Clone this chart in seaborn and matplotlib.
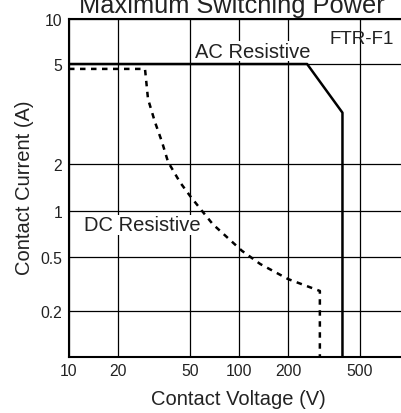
import numpy as np
import pandas as pd
import matplotlib
matplotlib.use("Agg")
import matplotlib.pyplot as plt
import seaborn as sns

# ---- data ----
ac_voltage = [10, 255, 400, 400]
ac_current = [5.0, 5.0, 3.2, 0.1]
dc_voltage = [10, 28.2, 29.3, 32, 35, 37.8, 44, 50, 60, 69, 80, 104, 135, 200, 300, 300]
dc_current = [4.78, 4.78, 3.63, 2.94, 2.45, 2.04, 1.53, 1.25, 0.985, 0.82, 0.71, 0.55,
              0.444, 0.344, 0.281, 0.1]
x_ticks = [10, 20, 50, 100, 200, 500]
x_ticklabels = ["10", "20", "50", "100", "200", "500"]
y_ticks = [0.2, 0.5, 1, 2, 5, 10]
y_ticklabels = ["0.2", "0.5", "1", "2", "5", "10"]

sns.set_theme(style="white")
plt.rcParams["font.family"] = ["Liberation Sans", "DejaVu Sans"]
TXT = "#222222"

# piecewise log scales matching the hand-drawn chart's grid
xk_log = np.log10([10, 20, 50, 100, 200, 500, 1000])
xk_px = np.array([69, 118, 190, 239, 288, 360, 409], float)
yk_log = np.log10([0.1, 0.2, 0.5, 1, 2, 5, 10])
yk_px = -np.array([358, 312, 258, 212, 165, 65, 20], float)


def xf(v):
    v = np.asarray(v, float)
    return np.interp(np.log10(np.clip(v, 1e-9, None)), xk_log, xk_px, left=-1e3, right=1e4)


def xi(p):
    return 10 ** np.interp(np.asarray(p, float), xk_px, xk_log)


def yf(v):
    v = np.asarray(v, float)
    return np.interp(np.log10(np.clip(v, 1e-9, None)), yk_log, yk_px, left=-1e4, right=1e3)


def yi(p):
    return 10 ** np.interp(np.asarray(p, float), yk_px, yk_log)


W, H = 401, 414
fig = plt.figure(figsize=(W / 100, H / 100), dpi=100)
ax = fig.add_axes([69 / W, (H - 358) / H, (409 - 69) / W, (358 - 20) / H])
ax.set_xscale("function", functions=(xf, xi))
ax.set_yscale("function", functions=(yf, yi))

ac = pd.DataFrame({"V": ac_voltage, "I": ac_current})
dc = pd.DataFrame({"V": dc_voltage, "I": dc_current})
sns.lineplot(data=ac, x="V", y="I", sort=False, estimator=None, color="black",
             lw=1.8, ax=ax, zorder=3)
sns.lineplot(data=dc, x="V", y="I", sort=False, estimator=None, color="black",
             lw=1.8, ax=ax, zorder=3, dashes=False, linestyle=(0, (2.2, 2.2)))

ax.set_xlim(10, 1000)
ax.set_ylim(0.1, 10)
ax.set_xticks(x_ticks, x_ticklabels)
ax.set_yticks(y_ticks, y_ticklabels)
ax.minorticks_off()
ax.grid(True, color="black", lw=0.9)
ax.set_axisbelow(True)
ax.tick_params(length=0, labelsize=11.3, colors=TXT)
ax.tick_params(axis="x", pad=4)
ax.tick_params(axis="y", pad=5)
for s in ["left", "bottom", "top"]:
    ax.spines[s].set_color("black")
    ax.spines[s].set_linewidth(1.5)
ax.spines["right"].set_visible(False)
ax.set_xlabel("")
ax.set_ylabel("")

fig.text(238 / W, 1 - 400 / H, "Contact Voltage (V)", ha="center", va="center",
         fontsize=14.5, color=TXT)
fig.text(25 / W, 1 - 188 / H, "Contact Current (A)", ha="center", va="center",
         rotation=90, fontsize=14.5, color=TXT)
fig.text(232 / W, 1 - 13 / H, "Maximum Switching Power", ha="center", va="baseline",
         fontsize=18.3, color=TXT)

box = dict(facecolor="white", edgecolor="none", pad=0.5)
fig.text(253 / W, 1 - 52 / H, "AC Resistive", ha="center", va="center",
         fontsize=14.5, color=TXT, bbox=box, zorder=5)
fig.text(142 / W, 1 - 226 / H, "DC Resistive", ha="center", va="center",
         fontsize=14.5, color=TXT, bbox=box, zorder=5)
fig.text(362 / W, 1 - 40 / H, "FTR-F1", ha="center", va="center",
         fontsize=13.5, color=TXT, zorder=5)

fig.savefig("out.png", dpi=100)
